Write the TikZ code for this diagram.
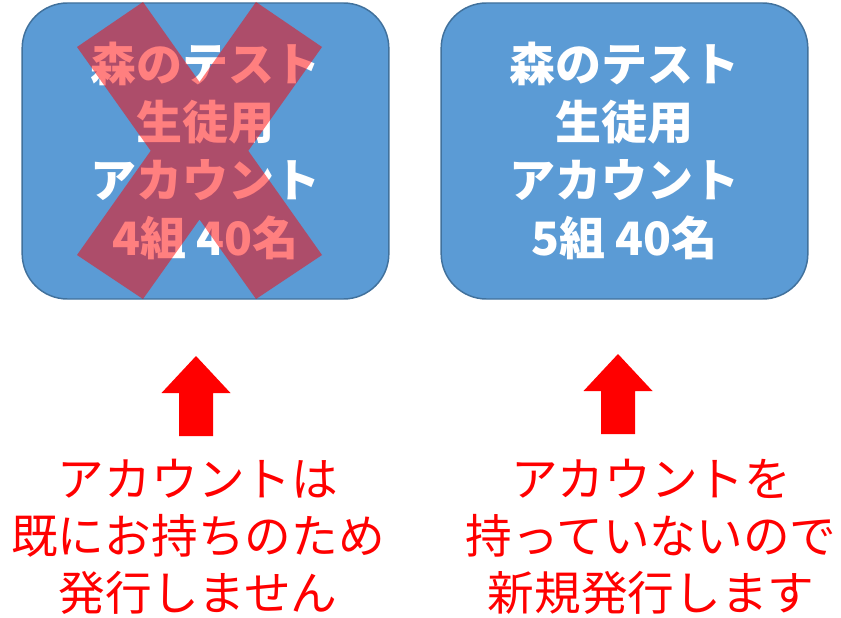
\documentclass[tikz,border=0pt]{standalone}
\usepackage{fontspec}
\setmainfont{Noto Sans CJK JP}
\usetikzlibrary{positioning}

\definecolor{boxfill}{HTML}{5B9BD5}
\definecolor{boxline}{HTML}{41719C}

\tikzset{
  acct/.style={draw=boxline, fill=boxfill, line width=1.1pt, rounded corners=34pt,
    minimum width=275pt, minimum height=222pt, text=white, align=center,
    font=\bfseries\fontsize{34.5}{43.5}\selectfont},
  note/.style={text=red, align=center, font=\fontsize{35}{42.75}\selectfont},
  cross/.style={fill=red, fill opacity=0.5}
}

\newcommand\blockup[2]{\fill[red] (#1,#2) -- ++(34.5,37) -- ++(-17.5,0) -- ++(0,43)
  -- ++(-34,0) -- ++(0,-43) -- ++(-17.5,0) -- cycle;}

\begin{document}
\begin{tikzpicture}[x=0.75pt, y=-0.75pt]
  \useasboundingbox (0,0) rectangle (841,617);
  \node[acct] (old) at (205.5,151) {森のテスト\\生徒用\\アカウント\\4組 40名};
  \node[acct] (new) at (624.5,151) {森のテスト\\生徒用\\アカウント\\5組 40名};
  % cross over the old box
  \fill[cross] (143,2) -- (199.5,82) -- (256,2) -- (322,47) -- (248.3,150.8)
    -- (322,255) -- (256,299) -- (199.5,219.5) -- (143,299) -- (77,255)
    -- (150.7,150.8) -- (77,47) -- cycle;
  \blockup{196}{356}
  \blockup{618}{354}
  \node[note] (keep) at (198,537) {アカウントは\\既にお持ちのため\\発行しません};
  \node[note] (issue) at (651,537) {アカウントを\\持っていないので\\新規発行します};
\end{tikzpicture}
\end{document}
